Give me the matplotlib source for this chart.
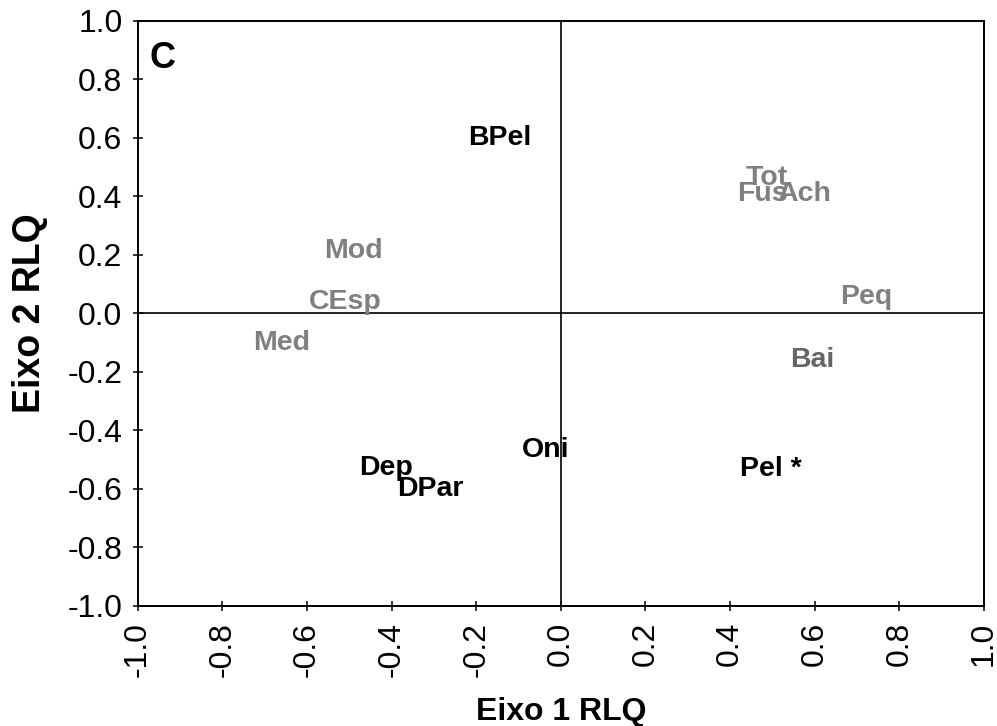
import numpy as np
import matplotlib
matplotlib.use('Agg')
import matplotlib.pyplot as plt

plt.rcParams['font.family'] = ['Liberation Sans', 'DejaVu Sans']

# species traits (black labels)
black_labels = ['BPel', 'Dep', 'DPar', 'Oni', 'Pel *']
black_x = [-0.144, -0.413, -0.309, -0.035, 0.497]
black_y = [0.600, -0.529, -0.601, -0.468, -0.532]

# environment variables (grey labels)
grey_labels = ['Mod', 'CEsp', 'Med', 'Tot', 'Fus', 'Ach', 'Peq', 'Bai']
grey_x = [-0.489, -0.510, -0.661, 0.487, 0.476, 0.574, 0.721, 0.594]
grey_y = [0.213, 0.038, -0.102, 0.462, 0.408, 0.408, 0.055, -0.160]
grey_cols = ['#808080'] * 7 + ['#666666']

ticks = np.round(np.arange(-1.0, 1.01, 0.2), 1)
tick_labels = [f'{abs(t):.1f}' if abs(t) < 1e-9 else f'{t:.1f}' for t in ticks]

fig = plt.figure(figsize=(9.97, 7.26), dpi=100)
ax = fig.add_axes([0.1381, 0.1657, 0.8489, 0.8058])

ax.axhline(0, color='black', lw=1.2, zorder=1)
ax.axvline(0, color='black', lw=1.2, zorder=1)

for lab, x, y in zip(black_labels, black_x, black_y):
    ax.text(x, y, lab, color='black', fontsize=20.5, fontweight='bold',
            ha='center', va='center', zorder=3)
for lab, x, y, c in zip(grey_labels, grey_x, grey_y, grey_cols):
    ax.text(x, y, lab, color=c, fontsize=20.5, fontweight='bold',
            ha='center', va='center', zorder=2)

ax.text(0.014, 0.965, 'C', transform=ax.transAxes, fontsize=26,
        fontweight='bold', ha='left', va='top')

ax.set_xlim(-1, 1)
ax.set_ylim(-1, 1)
ax.set_xticks(ticks)
ax.set_yticks(ticks)
ax.set_xticklabels(tick_labels, rotation=90)
ax.set_yticklabels(tick_labels)
ax.tick_params(direction='inout', length=7, width=1.1, labelsize=23, pad=7.5)
ax.tick_params(axis='x', pad=8)
for s in ax.spines.values():
    s.set_linewidth(1.4)

ax.set_xlabel('Eixo 1 RLQ', fontsize=23, fontweight='bold')
ax.set_ylabel('Eixo 2 RLQ', fontsize=27, fontweight='bold')
ax.xaxis.set_label_coords(0.5, -0.156)
ax.yaxis.set_label_coords(-0.106, 0.5)

fig.savefig('out.png', dpi=100)
